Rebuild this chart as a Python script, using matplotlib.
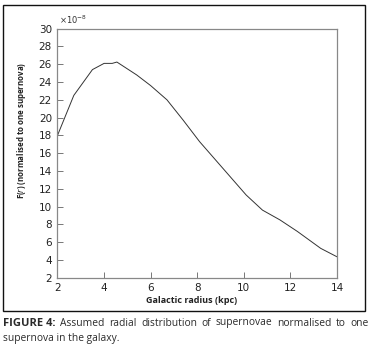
"""Radial distribution of supernovae F(r) vs galactic radius."""

import matplotlib
matplotlib.use("Agg")
import matplotlib.pyplot as plt
from matplotlib.patches import Rectangle

# values (units of 1e-8)
radius_kpc = [2.0, 2.7, 3.5, 4.0, 4.35, 4.55, 5.4, 6.0, 6.7, 7.4, 8.1,
              9.4, 10.1, 10.8, 11.55, 12.3, 13.3, 14.0]
f_r = [18.0, 22.5, 25.4, 26.1, 26.1, 26.25, 24.8, 23.6, 22.0, 19.7, 17.3,
       13.4, 11.3, 9.6, 8.5, 7.2, 5.3, 4.35]
x_ticks = [2, 4, 6, 8, 10, 12, 14]
y_ticks = list(range(2, 31, 2))

caption_bold = "FIGURE 4:"
caption_line1 = "Assumed radial distribution of supernovae normalised to one"
caption_line2 = "supernova in the galaxy."

W, H = 375, 347
fig = plt.figure(figsize=(W / 100, H / 100), dpi=100)
ax = fig.add_axes([57.5 / W, 1 - 277.7 / H, (337 - 57.5) / W, (277.7 - 28.7) / H])

ax.plot(radius_kpc, f_r, color="#333333", linewidth=0.7)
ax.set_xlim(2, 14)
ax.set_ylim(2, 30)
ax.set_xticks(x_ticks)
ax.set_yticks(y_ticks)
ax.tick_params(direction="in", length=4, width=0.7, color="#777777",
               labelsize=7.5, labelcolor="#222222", pad=4)
for sp in ax.spines.values():
    sp.set_color("#888888")
    sp.set_linewidth(0.9)

ax.set_xlabel("Galactic radius (kpc)", family="Open Sans", fontweight="bold",
              fontsize=6.5, color="#222222")
ax.xaxis.set_label_coords(0.481, -0.072)
ax.set_ylabel(r"F($\it{r}$) (normalised to one supernova)", family="Open Sans",
              fontweight="bold", fontsize=5.7, color="#222222")
ax.yaxis.set_label_coords(-0.107, 0.593)

fig.text(59 / W, 1 - 20 / H, r"$\times10^{-8}$", fontsize=6, color="#333333",
         va="center", ha="left")

# outer frame
fig.patches.append(Rectangle((3 / W, 1 - 311 / H), 362 / W, 306 / H,
                             transform=fig.transFigure, fill=False,
                             edgecolor="#111111", linewidth=1.0))

# justified caption, first line
cap_kw = dict(family="Open Sans", color="#2b2b2b", va="center")
renderer = fig.canvas.get_renderer()
words = [(caption_bold, "bold", 8.0)] + [(w, "normal", 7.4) for w in caption_line1.split()]
left_px, right_px = 3, 369
artists = []
total = 0
for word, weight, size in words:
    t = fig.text(0, 0, word, fontweight=weight, fontsize=size, **cap_kw)
    artists.append(t)
    total += t.get_window_extent(renderer).width
gap = (right_px - left_px - total) / (len(words) - 1)
x = left_px
for t in artists:
    t.set_position((x / W, 1 - 323 / H))
    x += t.get_window_extent(renderer).width + gap
fig.text(left_px / W, 1 - 338 / H, caption_line2, fontsize=7.4, **cap_kw)

fig.savefig("out.png", dpi=100)
